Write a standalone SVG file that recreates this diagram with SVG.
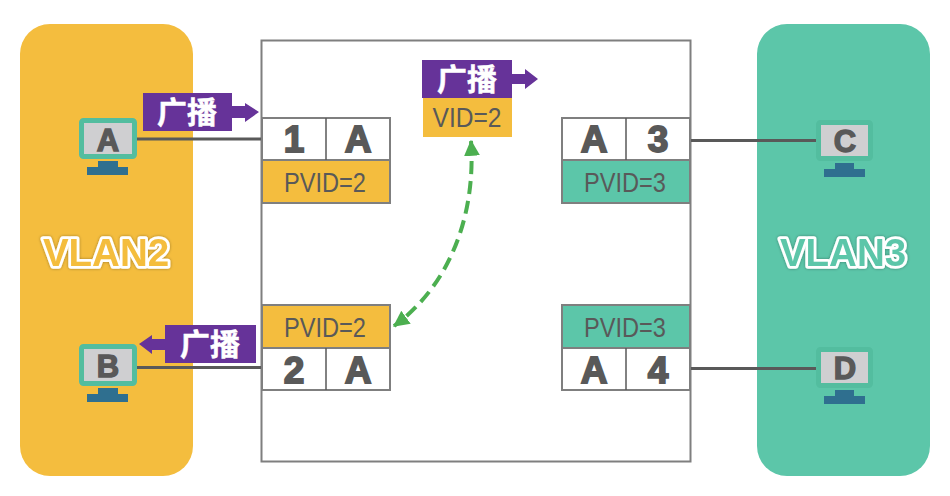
<svg xmlns="http://www.w3.org/2000/svg" width="950" height="496" viewBox="0 0 950 496">
<style>
.cell{fill:#fff;stroke:#7f7f7f;stroke-width:2}
.div{stroke:#595959;stroke-width:1.5}
.g{font-family:"Liberation Sans",Arial,sans-serif;font-weight:700;font-size:37px;fill:#595959;stroke:#595959;stroke-width:1.8;text-anchor:middle}
.pv{font-family:"Liberation Sans",Arial,sans-serif;font-size:27px;fill:#595959;text-anchor:middle}
.y{fill:#f4bd3e}
.t{fill:#5cc6a9}
.pur{fill:#663399}
.zh{font-family:"Noto Sans CJK SC","Liberation Sans",sans-serif;font-weight:700;font-size:30px;fill:#fff;stroke:#fff;stroke-width:.5;text-anchor:middle}
.frame{fill:#cfcfd1;stroke:#53bd9f;stroke-width:5}
.stand{fill:#2f6f8f}
.ml{font-family:"Liberation Sans",Arial,sans-serif;font-weight:700;font-size:31px;fill:#595959;stroke:#595959;stroke-width:1.4;text-anchor:middle}
.vl{font-family:"Liberation Sans",Arial,sans-serif;font-weight:700;font-size:38.500px;stroke:#fff;stroke-width:5.500;paint-order:stroke;stroke-linejoin:round;text-anchor:middle}
.wire{stroke:#595959;stroke-width:3;fill:none}
</style>
<defs>
<marker id="gh" markerUnits="userSpaceOnUse" markerWidth="16" markerHeight="16" refX="13" refY="7" orient="auto-start-reverse" viewBox="0 0 14 14"><path d="M0 0L14 7L0 14Z" fill="#4caf50"/></marker>
<filter id="sh" x="-10%" y="-20%" width="120%" height="140%"><feDropShadow dx="0" dy="0" stdDeviation="1.5" flood-color="#000" flood-opacity=".35"/></filter>
</defs>
<rect width="950" height="496" fill="#fff"/>
<g id="vlan2"><rect x="20" y="24" width="173" height="452" rx="30" class="y"/><text x="106" y="266" class="vl y" filter="url(#sh)">VLAN2</text></g>
<g id="vlan3"><rect x="757" y="24" width="173" height="452" rx="30" class="t"/><text x="843" y="266" class="vl t" filter="url(#sh)">VLAN3</text></g>
<g id="switch"><rect x="261.500" y="40.500" width="429" height="421" fill="none" stroke="#7f7f7f" stroke-width="2"/></g>
<g id="connectors">
<path class="wire" d="M137 139H262M137 367.500H262M690 140.500H816M690 368.500H816"/>
<path d="M471 141C476 215 450 285 394 326" fill="none" stroke="#4caf50" stroke-width="4" stroke-dasharray="13 7" marker-start="url(#gh)" marker-end="url(#gh)"/>
</g>
<g id="port1">
<rect x="262" y="118" width="128" height="42" class="cell"/><rect x="262" y="160" width="128" height="43" class="y" stroke="#7f7f7f" stroke-width="2"/><path class="div" d="M326 118V160"/>
<text x="294" y="152" class="g">1</text><text x="358" y="152" class="g">A</text><text x="325" y="192" class="pv" textLength="82" lengthAdjust="spacingAndGlyphs">PVID=2</text></g>
<g id="port2">
<rect x="262" y="305" width="128" height="43" class="y" stroke="#7f7f7f" stroke-width="2"/><rect x="262" y="348" width="128" height="42" class="cell"/><path class="div" d="M326 348V390"/>
<text x="294" y="383" class="g">2</text><text x="358" y="383" class="g">A</text><text x="325" y="337" class="pv" textLength="82" lengthAdjust="spacingAndGlyphs">PVID=2</text></g>
<g id="port3">
<rect x="562" y="118" width="128" height="42" class="cell"/><rect x="562" y="160" width="128" height="43" class="t" stroke="#7f7f7f" stroke-width="2"/><path class="div" d="M626 118V160"/>
<text x="594" y="152" class="g">A</text><text x="658" y="152" class="g">3</text><text x="625" y="192" class="pv" textLength="82" lengthAdjust="spacingAndGlyphs">PVID=3</text></g>
<g id="port4">
<rect x="562" y="305" width="128" height="43" class="t" stroke="#7f7f7f" stroke-width="2"/><rect x="562" y="348" width="128" height="42" class="cell"/><path class="div" d="M626 348V390"/>
<text x="594" y="383" class="g">A</text><text x="658" y="383" class="g">4</text><text x="625" y="337" class="pv" textLength="82" lengthAdjust="spacingAndGlyphs">PVID=3</text></g>
<g id="pcA"><rect x="81.500" y="120.500" width="53" height="36" rx="2" class="frame"/><path class="stand" d="M98 161H118V167H128V175H87V167H98Z"/><text x="108" y="151" class="ml">A</text></g>
<g id="pcB"><rect x="81.500" y="346.500" width="53" height="37" rx="2" class="frame"/><path class="stand" d="M98 388H118V394H128V402H87V394H98Z"/><text x="108" y="377" class="ml">B</text></g>
<g id="pcC"><rect x="818.500" y="122.500" width="52" height="36" rx="2" class="frame"/><path class="stand" d="M835 163H854V169H865V177H824V169H835Z"/><text x="845" y="152" class="ml">C</text></g>
<g id="pcD"><rect x="818.500" y="349.500" width="52" height="36" rx="2" class="frame"/><path class="stand" d="M835 390H854V396H865V404H824V396H835Z"/><text x="845" y="379" class="ml">D</text></g>
<g id="bc1"><path class="pur" d="M143 93H232V106H245V103L259 112L245 122V118H232V131H143Z"/><text x="187" y="123" class="zh">广播</text></g>
<g id="bc2"><path class="pur" d="M422 60H512V74H525V69L538 79L525 89V84H512V98H422Z"/><text x="467" y="90" class="zh">广播</text></g>
<g id="vid"><rect x="423" y="98" width="89" height="39" class="y"/><text x="467" y="127" class="pv" textLength="69" lengthAdjust="spacingAndGlyphs">VID=2</text></g>
<g id="bc3"><path class="pur" d="M256 325H165V339H152V335L139 344L152 354V350H165V363H256Z"/><text x="210" y="355" class="zh">广播</text></g>
</svg>
